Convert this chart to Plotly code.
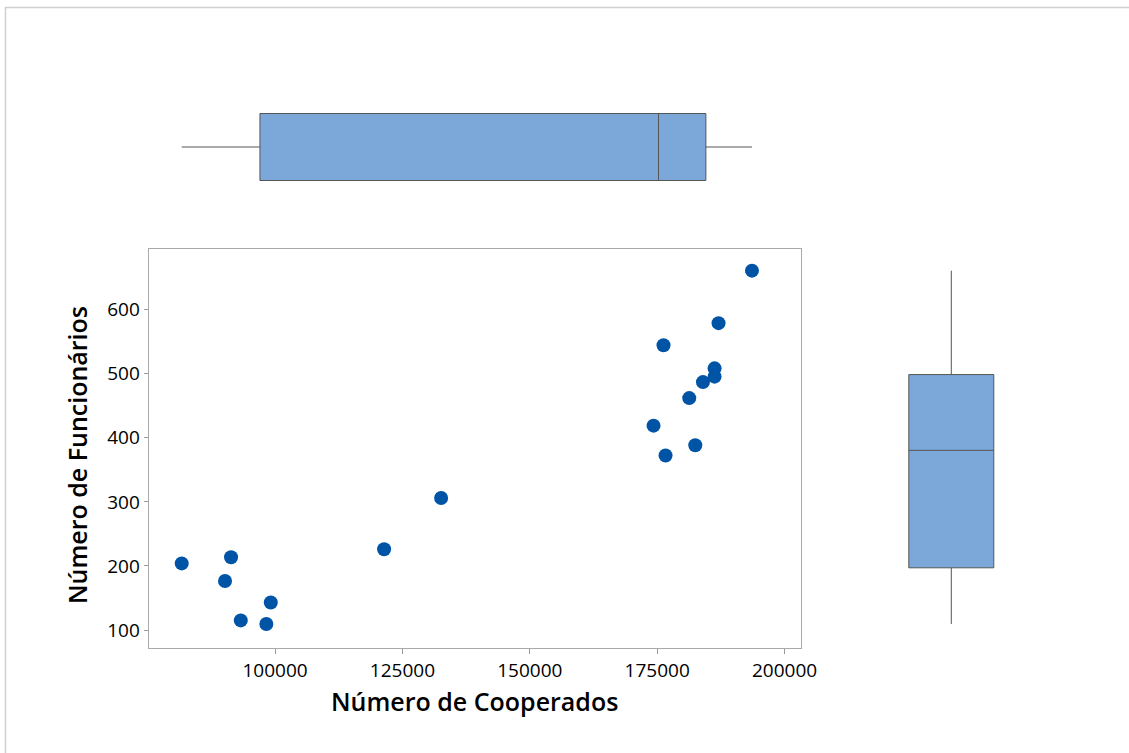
import numpy as np
import plotly.graph_objects as go

# ---- data ----
cooperados = [81680, 91360, 90180, 99160, 93270, 98290, 121400, 132590,
              193600, 187040, 176240, 186260, 186260, 183980, 181290,
              174280, 182470, 176640]
funcionarios = [204, 213.5, 176.5, 143, 115, 109.5, 226, 306,
                661, 579, 544.5, 508.5, 495.5, 487, 462,
                419, 388.5, 372.5]
x_tickvals = [100000, 125000, 150000, 175000, 200000]
x_ticktext = ["100000", "125000", "150000", "175000", "200000"]
y_tickvals = [100, 200, 300, 400, 500, 600]
y_ticktext = ["100", "200", "300", "400", "500", "600"]
x_title = "Número de Cooperados"
y_title = "Número de Funcionários"

W, H = 1129, 753
def px(x): return x / W
def py(y): return 1 - y / H

def stats(v):
    v = np.asarray(v, dtype=float)
    q1, med, q3 = np.percentile(v, [25, 50, 75], method="weibull")
    return q1, med, q3, v.min(), v.max()

BOX_FILL = "#7BA7D9"
BOX_LINE = "#555555"
MARK = "#0054A6"
FONT = "Open Sans"

fig = go.Figure()

fig.add_trace(go.Scatter(
    x=cooperados, y=funcionarios, mode="markers",
    marker=dict(color=MARK, size=14, line=dict(width=0)),
    xaxis="x", yaxis="y", showlegend=False, hoverinfo="x+y"))

q1, med, q3, lo, hi = stats(cooperados)
fig.add_trace(go.Box(
    q1=[q1], median=[med], q3=[q3], lowerfence=[lo], upperfence=[hi],
    y=[0], orientation="h", width=1.0, whiskerwidth=0,
    fillcolor=BOX_FILL, line=dict(color=BOX_LINE, width=1),
    xaxis="x2", yaxis="y2", showlegend=False, boxpoints=False))

q1, med, q3, lo, hi = stats(funcionarios)
fig.add_trace(go.Box(
    q1=[q1], median=[med], q3=[q3], lowerfence=[lo], upperfence=[hi],
    x=[0], orientation="v", width=1.197, whiskerwidth=0,
    fillcolor=BOX_FILL, line=dict(color=BOX_LINE, width=1),
    xaxis="x3", yaxis="y3", showlegend=False, boxpoints=False))

x_range = [75200, 203280]
y_range = [72.4, 694.3]
dom_x = [px(148.7), px(801.3)]
dom_y = [py(647.7), py(249.3)]

tickfont = dict(family=FONT, size=19, color="#000000")
hidden = dict(visible=False, showgrid=False, zeroline=False, automargin=False)
fig.update_layout(
    template="none",
    width=W, height=H, autosize=False,
    margin=dict(l=0, r=0, t=0, b=0, pad=0, autoexpand=False),
    paper_bgcolor="white", plot_bgcolor="white",
    font=dict(family=FONT),
    showlegend=False,
    xaxis=dict(domain=dom_x, range=x_range, anchor="y", automargin=False,
               tickvals=x_tickvals, ticktext=x_ticktext,
               ticks="outside", ticklen=5, tickcolor="#999999",
               showline=True, mirror=True, linecolor="#aaaaaa", linewidth=1.2,
               showgrid=False, zeroline=False, tickfont=tickfont),
    yaxis=dict(domain=dom_y, range=y_range, anchor="x", automargin=False,
               tickvals=y_tickvals, ticktext=y_ticktext,
               ticks="outside", ticklen=4, tickcolor="#999999",
               showline=True, mirror=True, linecolor="#aaaaaa", linewidth=1.2,
               showgrid=False, zeroline=False, tickfont=tickfont),
    xaxis2=dict(domain=dom_x, range=x_range, anchor="y2", **hidden),
    yaxis2=dict(domain=[py(214), py(80)], range=[-1, 1], anchor="x2", **hidden),
    xaxis3=dict(domain=[px(880.3), px(1022.3)], range=[-1, 1], anchor="y3", **hidden),
    yaxis3=dict(domain=dom_y, range=y_range, anchor="x3", **hidden),
    shapes=[dict(type="rect", xref="paper", yref="paper",
                 x0=px(5.5), x1=px(1140), y0=py(770), y1=py(7.5),
                 line=dict(color="#d0d0d0", width=1.5), layer="below")],
    annotations=[
        dict(text=x_title, xref="paper", yref="paper",
             x=px(474), y=py(701), xanchor="center", yanchor="middle",
             showarrow=False, font=dict(family=FONT, size=25, color="#000000", weight=600)),
        dict(text=y_title, xref="paper", yref="paper",
             x=px(77), y=py(455), xanchor="center", yanchor="middle",
             textangle=-90, showarrow=False,
             font=dict(family=FONT, size=25, color="#000000", weight=600)),
    ],
)

fig.write_html("out.html")
